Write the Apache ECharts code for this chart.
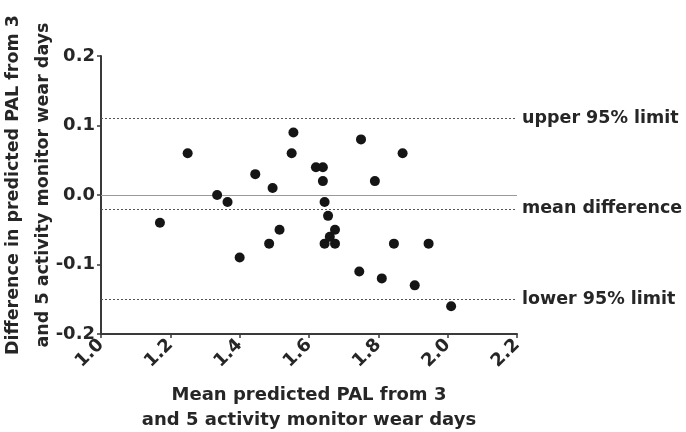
<!DOCTYPE html>
<html>
<head>
<meta charset="utf-8">
<script src="https://cdn.jsdelivr.net/npm/echarts@6/dist/echarts.min.js"></script>
<style>
  html, body { margin: 0; padding: 0; background: #fff; }
  #chart { width: 686px; height: 432px; }
</style>
</head>
<body>
<div id="chart"></div>
<script>
// mean predicted PAL (x) and difference (y)
const meanPAL = [1.17, 1.25, 1.335, 1.365, 1.40, 1.445, 1.485, 1.495, 1.515, 1.55,
  1.555, 1.62, 1.64, 1.64, 1.645, 1.655, 1.645, 1.66, 1.675, 1.675,
  1.745, 1.75, 1.79, 1.81, 1.845, 1.87, 1.905, 1.945, 2.01]
const diffPAL = [-0.04, 0.06, 0.0, -0.01, -0.09, 0.03, -0.07, 0.01, -0.05, 0.06,
  0.09, 0.04, 0.04, 0.02, -0.01, -0.03, -0.07, -0.06, -0.07, -0.05,
  -0.11, 0.08, 0.02, -0.12, -0.07, 0.06, -0.13, -0.07, -0.16]

const refNames = ['upper 95% limit', 'mean difference', 'lower 95% limit']
const refValues = [0.106, -0.023, -0.155]

const font = 'DejaVu Sans'
const ink = '#262626'

var myChart = echarts.init(document.getElementById('chart'))

const points = meanPAL.map((x, i) => [x, diffPAL[i]])

const option = {
  animation: false,
  textStyle: { fontFamily: font },
  grid: { left: 101, right: 169, top: 56, bottom: 98, containLabel: false, outerBoundsMode: 'none' },
  xAxis: {
    type: 'value',
    min: 1.0,
    max: 2.2,
    interval: 0.2,
    name: 'Mean predicted PAL from 3\nand 5 activity monitor wear days',
    nameLocation: 'middle',
    nameGap: 49,
    nameMoveOverlap: false,
    nameTextStyle: { fontSize: 18, fontWeight: 'bold', color: ink, lineHeight: 25, fontFamily: font },
    axisLine: { onZero: false, lineStyle: { color: '#3a3a3a', width: 2 } },
    axisTick: { length: 4, lineStyle: { color: '#3a3a3a', width: 1.5 } },
    axisLabel: {
      rotate: 45,
      margin: 8,
      fontSize: 18,
      fontWeight: 'bold',
      color: ink,
      fontFamily: font,
      formatter: v => v.toFixed(1)
    },
    splitLine: { show: false }
  },
  yAxis: {
    type: 'value',
    min: -0.2,
    max: 0.2,
    interval: 0.1,
    name: 'Difference in predicted PAL from 3\nand 5 activity monitor wear days',
    nameLocation: 'middle',
    nameGap: 43,
    nameMoveOverlap: false,
    nameTextStyle: {
      fontSize: 17.5, fontWeight: 'bold', color: ink, lineHeight: 30, fontFamily: font,
      padding: [0, 0, 0, 20]
    },
    axisLine: { show: true, lineStyle: { color: '#3a3a3a', width: 2 } },
    axisTick: { show: true, length: 4, lineStyle: { color: '#3a3a3a', width: 1.5 } },
    axisLabel: {
      margin: 6,
      fontSize: 18,
      fontWeight: 'bold',
      color: ink,
      fontFamily: font,
      formatter: v => v.toFixed(1)
    },
    splitLine: { show: false }
  },
  series: [
    {
      type: 'scatter',
      data: points,
      symbolSize: 10,
      itemStyle: { color: '#151515', opacity: 1 },
      z: 5,
      markLine: {
        silent: true,
        symbol: 'none',
        animation: false,
        data: [
          {
            yAxis: 0,
            lineStyle: { type: 'solid', color: '#9a9a9a', width: 1 },
            label: { show: false }
          }
        ].concat(refValues.map((v, i) => ({
          yAxis: v,
          name: refNames[i],
          lineStyle: { type: [2, 2], color: '#555', width: 1 },
          label: {
            show: true,
            position: 'end',
            distance: 5,
            formatter: refNames[i],
            fontSize: 17.5,
            fontWeight: 'bold',
            color: ink,
            fontFamily: font
          }
        })))
      }
    }
  ]
}

myChart.setOption(option)
</script>
</body>
</html>
